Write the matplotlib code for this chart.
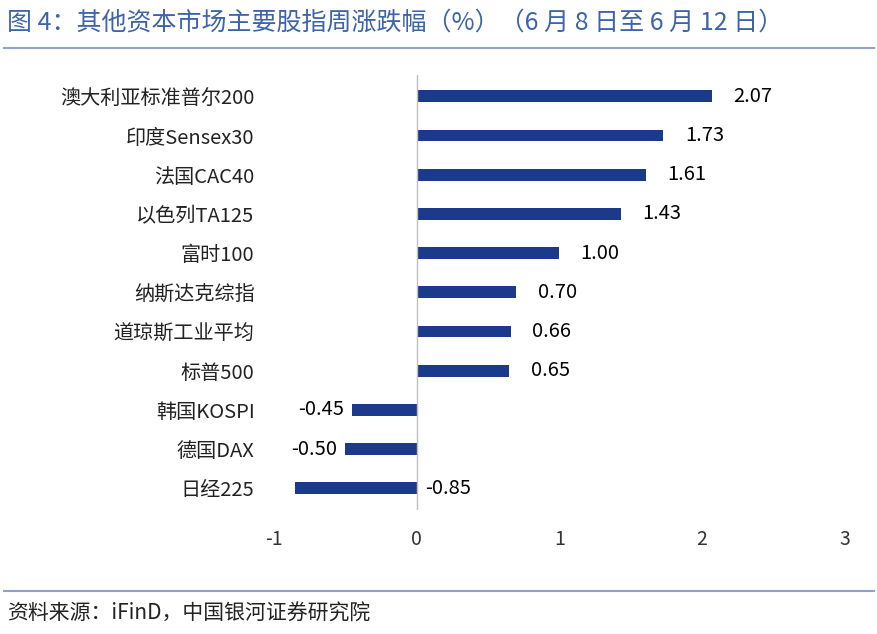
import matplotlib.pyplot as plt
from matplotlib.lines import Line2D

plt.rcParams['font.family'] = ['Noto Sans CJK SC', 'DejaVu Sans']

names = ["澳大利亚标准普尔200", "印度Sensex30", "法国CAC40", "以色列TA125", "富时100",
         "纳斯达克综指", "道琼斯工业平均", "标普500", "韩国KOSPI", "德国DAX", "日经225"]
values = [2.07, 1.73, 1.61, 1.43, 1.00, 0.70, 0.66, 0.65, -0.45, -0.50, -0.85]
labels = ["2.07", "1.73", "1.61", "1.43", "1.00", "0.70", "0.66", "0.65", "-0.45", "-0.50", "-0.85"]

fig = plt.figure(figsize=(8.78, 6.34), dpi=100)
ax = fig.add_axes([0.312, 0.196, 0.650, 0.686])
y = list(range(len(names)))[::-1]
ax.barh(y, values, height=0.3, color="#1b3a8c")
ax.set_xlim(-1, 3)
ax.set_ylim(-0.55, len(names) - 0.45)
ax.set_yticks(y)
ax.set_yticklabels(names, fontsize=14.5, color="#222222")
ax.set_xticks([-1, 0, 1, 2, 3])
ax.set_xticklabels(["-1", "0", "1", "2", "3"], fontsize=14, color="#333333")
ax.tick_params(length=0, axis='y', pad=14)
ax.tick_params(length=0, axis='x', pad=14)
for s in ax.spines.values():
    s.set_visible(False)
ax.axvline(0, color="#bfbfbf", lw=1)

for yi, v, lab in zip(y, values, labels):
    if v >= 0:
        ax.text(v + 0.15, yi, lab, va='center', ha='left', fontsize=14.5)
    elif v > -0.8:
        ax.text(v - 0.06, yi, lab, va='center', ha='right', fontsize=14.5)
    else:
        ax.text(0.06, yi, lab, va='center', ha='left', fontsize=14.5)

fig.text(0.008, 0.965, "图 4：其他资本市场主要股指周涨跌幅（%）（6 月 8 日至 6 月 12 日）",
         fontsize=18, color="#3d64a8", va='center', ha='left')
fig.add_artist(Line2D([0.005, 0.995], [0.925, 0.925], color="#8ea3c8", lw=1.5))
fig.add_artist(Line2D([0.005, 0.995], [0.068, 0.068], color="#8ea3c8", lw=1.5))
fig.text(0.008, 0.032, "资料来源：iFinD，中国银河证券研究院", fontsize=15, style='italic',
         color="#222222", va='center', ha='left')

fig.savefig("out.png")
